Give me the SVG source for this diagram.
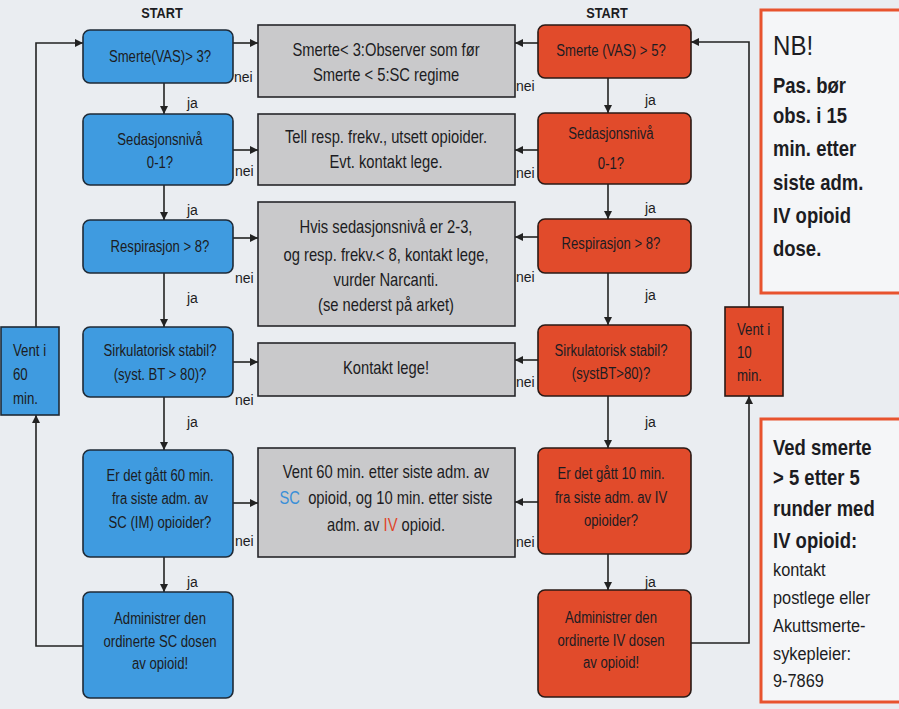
<svg xmlns="http://www.w3.org/2000/svg" width="899" height="709" viewBox="0 0 899 709">
<style>
  .bg{fill:#eaedf1}
  .blue{fill:#3f9be0;stroke:#1f2a36;stroke-width:1.6}
  .red{fill:#e14b2b;stroke:#2a1a16;stroke-width:1.6}
  .gray{fill:#c9c9cb;stroke:#26262a;stroke-width:1.6}
  .note{fill:#f5f6f8;stroke:#e8532e;stroke-width:3}
  text{font-family:"Liberation Sans",Arial,sans-serif;fill:#1c1c22}
  .t{font-size:16px;text-anchor:middle}
  .tg{font-size:18px;text-anchor:middle}
  .lbl{font-size:14px}
  .start{font-size:15px;font-weight:bold;text-anchor:middle}
  .nb{font-size:21.5px;font-weight:bold}
  .nbr{font-size:19px}
  .vt{font-size:17px}
  .con{fill:none;stroke:#222;stroke-width:1.6}
</style>
<defs>
  <marker id="ah" viewBox="0 0 10 10" refX="10" refY="5" markerWidth="8" markerHeight="8" markerUnits="userSpaceOnUse" orient="auto">
    <path d="M0,0 L10,5 L0,10 z" fill="#222"/>
  </marker>
</defs>
<rect class="bg" x="0" y="0" width="899" height="709"/>

<g transform="translate(162 0) scale(0.85 1)"><text class="start" x="0" y="18">START</text></g>
<g transform="translate(607 0) scale(0.85 1)"><text class="start" x="0" y="18">START</text></g>

<g id="connectors">
  <path class="con" marker-end="url(#ah)" d="M164,83 V114"/>
  <path class="con" marker-end="url(#ah)" d="M164,185 V220"/>
  <path class="con" marker-end="url(#ah)" d="M164,273 V327"/>
  <path class="con" marker-end="url(#ah)" d="M164,397 V450"/>
  <path class="con" marker-end="url(#ah)" d="M164,557 V592"/>
  <path class="con" marker-end="url(#ah)" d="M608,78 V113"/>
  <path class="con" marker-end="url(#ah)" d="M608,184 V219"/>
  <path class="con" marker-end="url(#ah)" d="M608,273 V325"/>
  <path class="con" marker-end="url(#ah)" d="M608,396 V448"/>
  <path class="con" marker-end="url(#ah)" d="M608,554 V590"/>
  <path class="con" marker-end="url(#ah)" d="M233,43 H258"/>
  <path class="con" marker-end="url(#ah)" d="M233,150 H258"/>
  <path class="con" marker-end="url(#ah)" d="M233,238 H258"/>
  <path class="con" marker-end="url(#ah)" d="M233,362 H258"/>
  <path class="con" marker-end="url(#ah)" d="M233,503 H258"/>
  <path class="con" marker-end="url(#ah)" d="M538,43 H515"/>
  <path class="con" marker-end="url(#ah)" d="M538,150 H515"/>
  <path class="con" marker-end="url(#ah)" d="M538,237 H515"/>
  <path class="con" marker-end="url(#ah)" d="M538,360 H515"/>
  <path class="con" marker-end="url(#ah)" d="M538,502 H515"/>
  <path class="con" marker-end="url(#ah)" d="M83,646 H36 V415"/>
  <path class="con" marker-end="url(#ah)" d="M36,327 V43 H83"/>
  <path class="con" marker-end="url(#ah)" d="M691,643 H749 V396"/>
  <path class="con" marker-end="url(#ah)" d="M749,307 V42 H691"/>
  <g class="lbl">
    <text x="234" y="82">nei</text>
    <text x="235" y="176">nei</text>
    <text x="235" y="283">nei</text>
    <text x="235" y="405">nei</text>
    <text x="235" y="546">nei</text>
    <text x="516" y="91">nei</text>
    <text x="516" y="178">nei</text>
    <text x="516" y="282">nei</text>
    <text x="516" y="387">nei</text>
    <text x="516" y="547">nei</text>
    <text x="187" y="108">ja</text>
    <text x="187" y="215">ja</text>
    <text x="187" y="303">ja</text>
    <text x="187" y="427">ja</text>
    <text x="187" y="587">ja</text>
    <text x="645" y="105">ja</text>
    <text x="645" y="213">ja</text>
    <text x="645" y="300">ja</text>
    <text x="645" y="427">ja</text>
    <text x="645" y="587">ja</text>
  </g>
</g>

<g id="b1"><rect class="blue" x="83" y="30" width="150" height="53" rx="7"/><g transform="translate(160 0) scale(0.82 1)"><text class="t" x="0" y="62">Smerte(VAS)&gt; 3?</text></g></g>
<g id="b2"><rect class="blue" x="83" y="114" width="150" height="71" rx="7"/><g transform="translate(160 0) scale(0.82 1)"><text class="t" x="0" y="145">Sedasjonsnivå</text><text class="t" x="0" y="168">0-1?</text></g></g>
<g id="b3"><rect class="blue" x="83" y="220" width="150" height="53" rx="7"/><g transform="translate(160 0) scale(0.82 1)"><text class="t" x="0" y="252">Respirasjon &gt; 8?</text></g></g>
<g id="b4"><rect class="blue" x="83" y="327" width="150" height="70" rx="7"/><g transform="translate(160 0) scale(0.82 1)"><text class="t" x="0" y="356">Sirkulatorisk stabil?</text><text class="t" x="0" y="380">(syst. BT &gt; 80)?</text></g></g>
<g id="b5"><rect class="blue" x="83" y="450" width="150" height="107" rx="7"/><g transform="translate(160 0) scale(0.82 1)"><text class="t" x="0" y="481">Er det gått 60 min.</text><text class="t" x="0" y="504">fra siste adm. av</text><text class="t" x="0" y="528">SC (IM) opioider?</text></g></g>
<g id="b6"><rect class="blue" x="83" y="592" width="150" height="106" rx="7"/><g transform="translate(160 0) scale(0.82 1)"><text class="t" x="0" y="624">Administrer den</text><text class="t" x="0" y="647">ordinerte SC dosen</text><text class="t" x="0" y="669">av opioid!</text></g></g>
<g id="bvent"><rect class="blue" x="1" y="327" width="58" height="88"/><g transform="translate(13 0) scale(0.78 1)"><text class="vt" x="0" y="356">Vent i</text><text class="vt" x="0" y="380">60</text><text class="vt" x="0" y="404">min.</text></g></g>

<g id="g1"><rect class="gray" x="258" y="25" width="257" height="72"/><g transform="translate(386 0) scale(0.82 1)"><text class="tg" x="0" y="56">Smerte&lt; 3:Observer som før</text><text class="tg" x="0" y="81">Smerte &lt; 5:SC regime</text></g></g>
<g id="g2"><rect class="gray" x="258" y="114" width="257" height="71"/><g transform="translate(386 0) scale(0.82 1)"><text class="tg" x="0" y="143">Tell resp. frekv., utsett opioider.</text><text class="tg" x="0" y="168">Evt. kontakt lege.</text></g></g>
<g id="g3"><rect class="gray" x="258" y="202" width="257" height="124"/><g transform="translate(386 0) scale(0.82 1)"><text class="tg" x="0" y="233">Hvis sedasjonsnivå er 2-3,</text><text class="tg" x="0" y="261">og resp. frekv.&lt; 8, kontakt lege,</text><text class="tg" x="0" y="286">vurder Narcanti.</text><text class="tg" x="0" y="311">(se nederst på arket)</text></g></g>
<g id="g4"><rect class="gray" x="258" y="343" width="257" height="53"/><g transform="translate(386 0) scale(0.82 1)"><text class="tg" x="0" y="374">Kontakt lege!</text></g></g>
<g id="g5"><rect class="gray" x="258" y="448" width="257" height="109"/><g transform="translate(386 0) scale(0.82 1)"><text class="tg" x="0" y="478">Vent 60 min. etter siste adm. av</text><text class="tg" x="0" y="504" xml:space="preserve"><tspan fill="#3a8fd8">SC</tspan>  opioid, og 10 min. etter siste</text><text class="tg" x="0" y="531">adm. av <tspan fill="#e0452a">IV</tspan> opioid.</text></g></g>

<g id="r1"><rect class="red" x="538" y="25" width="153" height="53" rx="7"/><g transform="translate(611 0) scale(0.82 1)"><text class="t" x="0" y="56">Smerte (VAS) &gt; 5?</text></g></g>
<g id="r2"><rect class="red" x="538" y="113" width="153" height="71" rx="7"/><g transform="translate(611 0) scale(0.82 1)"><text class="t" x="0" y="139">Sedasjonsnivå</text><text class="t" x="0" y="169">0-1?</text></g></g>
<g id="r3"><rect class="red" x="538" y="219" width="153" height="54" rx="7"/><g transform="translate(611 0) scale(0.82 1)"><text class="t" x="0" y="249">Respirasjon &gt; 8?</text></g></g>
<g id="r4"><rect class="red" x="538" y="325" width="153" height="71" rx="7"/><g transform="translate(611 0) scale(0.82 1)"><text class="t" x="0" y="356">Sirkulatorisk stabil?</text><text class="t" x="0" y="379">(systBT&gt;80)?</text></g></g>
<g id="r5"><rect class="red" x="538" y="448" width="153" height="106" rx="7"/><g transform="translate(611 0) scale(0.82 1)"><text class="t" x="0" y="479">Er det gått 10 min.</text><text class="t" x="0" y="503">fra siste adm. av IV</text><text class="t" x="0" y="526">opioider?</text></g></g>
<g id="r6"><rect class="red" x="538" y="590" width="153" height="107" rx="7"/><g transform="translate(611 0) scale(0.82 1)"><text class="t" x="0" y="623">Administrer den</text><text class="t" x="0" y="646">ordinerte IV dosen</text><text class="t" x="0" y="668">av opioid!</text></g></g>
<g id="rvent"><rect class="red" x="725" y="307" width="58" height="89"/><g transform="translate(737 0) scale(0.78 1)"><text class="vt" x="0" y="335">Vent i</text><text class="vt" x="0" y="358">10</text><text class="vt" x="0" y="381">min.</text></g></g>

<g id="nb"><rect class="note" x="761" y="10" width="140" height="283"/>
  <g transform="translate(773 0) scale(0.86 1)">
  <text x="0" y="55" style="font-size:28px">NB!</text>
  <text class="nb" x="0" y="93">Pas. bør</text>
  <text class="nb" x="0" y="123">obs. i 15</text>
  <text class="nb" x="0" y="156">min. etter</text>
  <text class="nb" x="0" y="190">siste adm.</text>
  <text class="nb" x="0" y="223">IV opioid</text>
  <text class="nb" x="0" y="256">dose.</text>
  </g>
</g>
<g id="ved"><rect class="note" x="761" y="419" width="140" height="283"/>
  <g transform="translate(773 0) scale(0.86 1)">
  <text class="nb" x="0" y="455">Ved smerte</text>
  <text class="nb" x="0" y="485">&gt; 5 etter 5</text>
  <text class="nb" x="0" y="516">runder med</text>
  <text class="nb" x="0" y="548">IV opioid:</text>
  <text class="nbr" x="0" y="576">kontakt</text>
  <text class="nbr" x="0" y="604">postlege eller</text>
  <text class="nbr" x="0" y="632">Akuttsmerte-</text>
  <text class="nbr" x="0" y="660">sykepleier:</text>
  <text class="nbr" x="0" y="687">9-7869</text>
  </g>
</g>
</svg>
